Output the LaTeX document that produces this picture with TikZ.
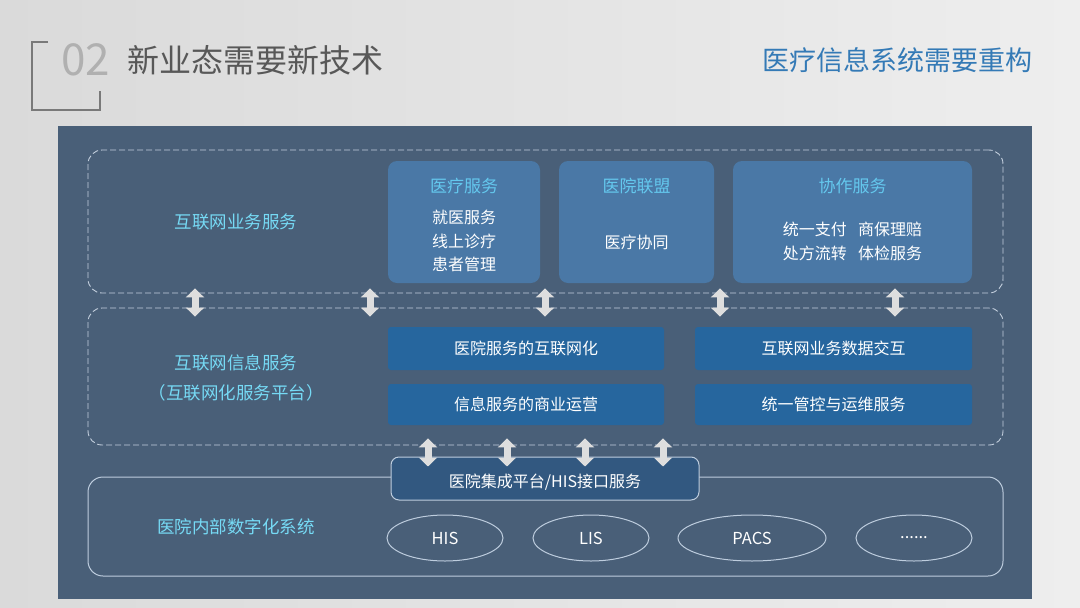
\documentclass[tikz,border=0pt]{standalone}
\usepackage{fontspec}
\setmainfont{Noto Sans CJK SC}
\usetikzlibrary{arrows.meta,shapes,positioning}

\definecolor{pagel}{RGB}{218,218,218}
\definecolor{pager}{RGB}{238,238,238}
\definecolor{panel}{RGB}{73,95,120}
\definecolor{topblue}{RGB}{74,120,166}
\definecolor{midblue}{RGB}{38,102,158}
\definecolor{hubblue}{RGB}{50,88,128}
\definecolor{dashclr}{RGB}{196,208,222}
\definecolor{lineclr}{RGB}{190,205,222}
\definecolor{cyanlbl}{RGB}{118,218,245}
\definecolor{titlelbl}{RGB}{100,200,238}
\definecolor{arrowgrey}{RGB}{222,222,222}
\definecolor{headgrey}{RGB}{88,88,88}
\definecolor{numgrey}{RGB}{176,176,176}
\definecolor{headblue}{RGB}{52,122,182}

\begin{document}
\begin{tikzpicture}[x=1pt, y=-1pt, every node/.style={inner sep=0pt},
    layer/.style={draw=dashclr, dash pattern=on 6pt off 3pt, line width=0.9pt,
      rounded corners=14pt, minimum width=915pt},
    topbox/.style={fill=topblue, rounded corners=9pt, minimum height=122pt},
    midbox/.style={fill=midblue, rounded corners=3pt, minimum height=43pt,
      text=white, font=\fontsize{16}{20}\selectfont},
    sysell/.style={ellipse, draw=lineclr, line width=1pt, minimum width=116pt,
      minimum height=46pt, text=white, font=\fontsize{16.5}{20}\selectfont},
    layername/.style={text=cyanlbl, align=center, font=\fontsize{17.5}{30}\selectfont},
    boxtitle/.style={text=titlelbl, font=\fontsize{17}{20}\selectfont},
    boxtext/.style={text=white, align=center, font=\fontsize{16}{23.5}\selectfont},
    updown/.style={{Triangle[width=18pt,length=9pt]}-{Triangle[width=18pt,length=9pt]},
      line width=7pt, draw=arrowgrey}]
    \useasboundingbox (0,0) rectangle (1080,608);

    % Page and panel
    \shade[left color=pagel, right color=pager] (0,0) rectangle (1080,608);
    \fill[panel] (58,126) rectangle (1032,599);

    % Heading
    \draw[headgrey!80, line width=1.4pt] (48,42) -- (32,42) -- (32,110) -- (100,110) -- (100,91);
    \node[anchor=west, text=numgrey, font=\fontsize{44}{44}\selectfont] (num) at (61,60) {02};
    \node[anchor=west, text=headgrey, font=\fontsize{32}{32}\selectfont] (head) at (127,60) {新业态需要新技术};
    \node[anchor=east, text=headblue, font=\fontsize{27}{27}\selectfont] (sub) at (1033,60) {医疗信息系统需要重构};

    % Layers
    \node[layer, minimum height=143pt] (l1) at (545.5,221.5) {};
    \node[layer, minimum height=137pt] (l2) at (545.5,376.5) {};
    \node[draw=lineclr, line width=1pt, rounded corners=15pt, minimum width=915pt,
      minimum height=99pt] (l3) at (545.5,526.5) {};

    \node[layername] (n1) at (236,222) {互联网业务服务};
    \node[layername] (n2) at (236,378) {互联网信息服务\\（互联网化服务平台）};
    \node[layername] (n3) at (236,527) {医院内部数字化系统};

    % Internet business services
    \node[topbox, minimum width=152pt] (yl) at (464,222) {};
    \node[topbox, minimum width=155pt] (lm) at (636.5,222) {};
    \node[topbox, minimum width=239pt] (xz) at (852.5,222) {};
    \node[boxtitle] (yl-t) at (464,186) {医疗服务};
    \node[boxtext] (yl-b) at (464,241) {就医服务\\线上诊疗\\患者管理};
    \node[boxtitle] (lm-t) at (636.5,186) {医院联盟};
    \node[boxtext] (lm-b) at (636.5,242) {医疗协同};
    \node[boxtitle] (xz-t) at (852.5,186) {协作服务};
    \node[boxtext] (xz-b) at (852.5,241.5) {统一支付\hspace{0.7em}商保理赔\\处方流转\hspace{0.7em}体检服务};

    % Internet information services
    \node[midbox, minimum width=276pt] (m1) at (526,348.5) {医院服务的互联网化};
    \node[midbox, minimum width=276pt, minimum height=41pt] (m2) at (526,404.5) {信息服务的商业运营};
    \node[midbox, minimum width=277pt] (m3) at (833.5,348.5) {互联网业务数据交互};
    \node[midbox, minimum width=277pt, minimum height=41pt] (m4) at (833.5,404.5) {统一管控与运维服务};

    % Hospital systems
    \node[fill=hubblue, draw=lineclr, line width=1pt, rounded corners=8pt, minimum width=308pt,
      minimum height=43pt] (hub) at (545,478.5) {};
    \node[text=white, font=\fontsize{16}{20}\selectfont] (hub-t) at (545,482) {医院集成平台/HIS接口服务};
    \node[sysell] (his) at (445,538) {HIS};
    \node[sysell] (lis) at (591,538) {LIS};
    \node[sysell, minimum width=148pt] (pacs) at (752,538) {PACS};
    \node[sysell] (etc) at (914,538) {......};

    % Exchange arrows
    \foreach \x in {195,370,545,720,895}
      \draw[updown, shorten <=-5pt, shorten >=-9pt] (l1.south -| \x,0) -- (l2.north -| \x,0);
    \foreach \x in {428,507,585,663}
      \draw[updown, shorten <=-7pt, shorten >=-10pt] (l2.south -| \x,0) -- (hub.north -| \x,0);
\end{tikzpicture}
\end{document}
